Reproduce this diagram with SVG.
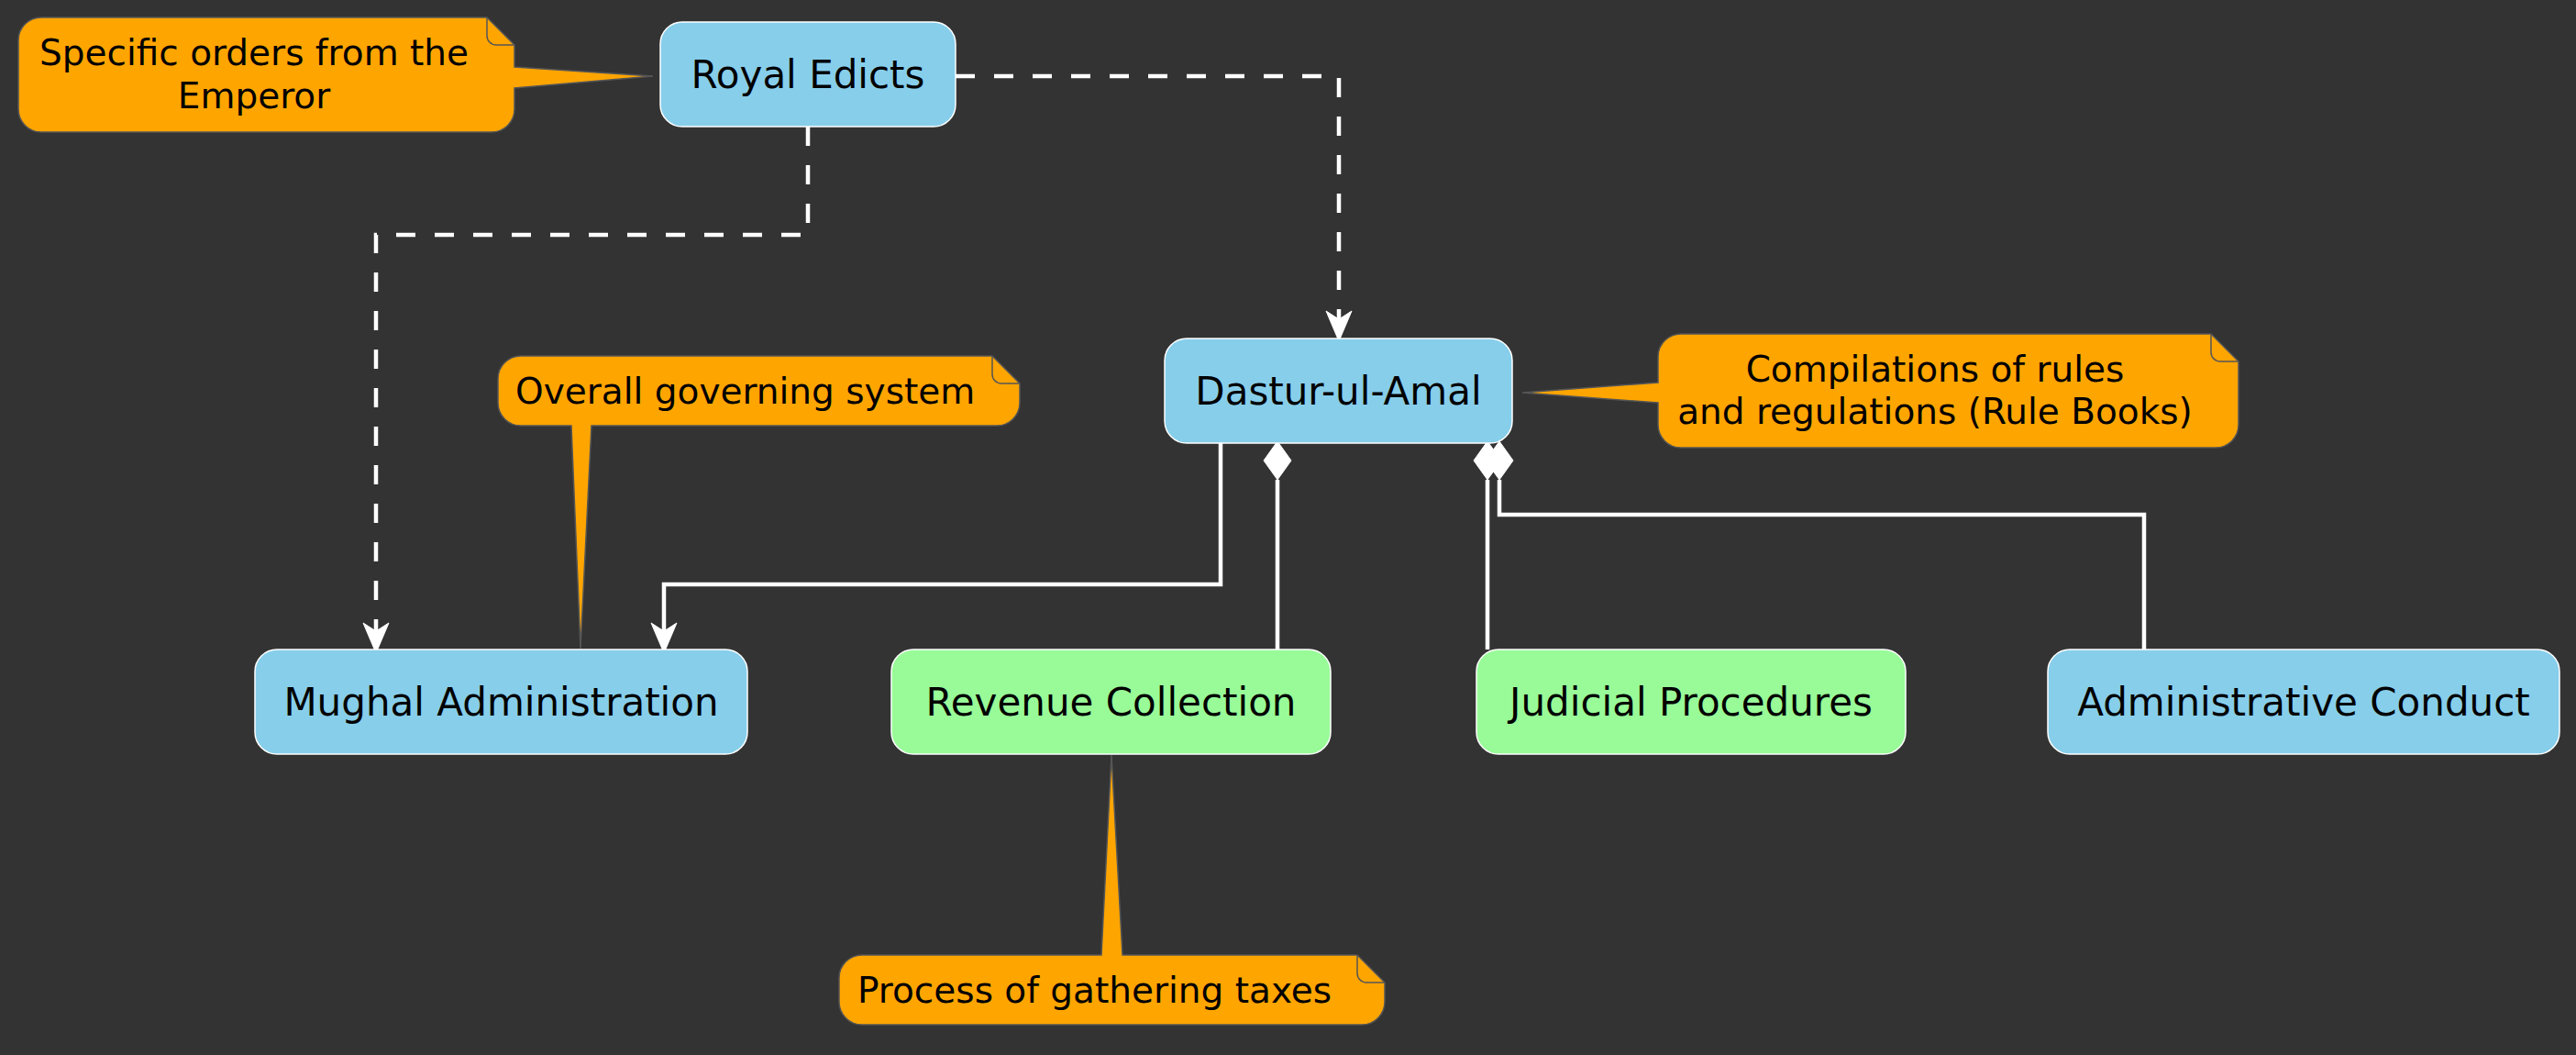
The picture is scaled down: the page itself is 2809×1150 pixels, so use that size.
<svg xmlns="http://www.w3.org/2000/svg" width="2809" height="1150" viewBox="0 0 2809 1150">
<style>
.node{stroke:#FFFFFF;stroke-width:1.5}
.blue{fill:#87CEEB}
.green{fill:#98FB98}
.ntext{font-family:"DejaVu Sans",Verdana,sans-serif;font-size:42px;fill:#000000;text-anchor:middle}
.note{fill:#FFA500;stroke:#555555;stroke-width:1.5}
.fold{fill:none;stroke:#555555;stroke-width:1.5}
.ttext{font-family:"DejaVu Sans",Verdana,sans-serif;font-size:39px;fill:#000000}
.edge{fill:none;stroke:#FFFFFF;stroke-width:4.5}
.dash{stroke-dasharray:21 21}
.head{fill:#FFFFFF;stroke:#FFFFFF;stroke-width:1}
</style>
<rect x="0" y="0" width="2809" height="1150" fill="#333333"/>

<g id="connectors">
  <path class="edge dash" d="M1042,83 L1460,83 L1460,350"/>
  <polygon class="head" points="1460,372 1446,339 1460,348 1474,339"/>
  <path class="edge dash" d="M881,138 L881,256 L410,256 L410,690"/>
  <polygon class="head" points="410,712 396,679 410,688 424,679"/>
  <path class="edge" d="M1331,483 L1331,637 L724,637 L724,690"/>
  <polygon class="head" points="724,712 710,679 724,688 738,679"/>
  <path class="edge" d="M1393,523 L1393,708"/>
  <polygon class="head" points="1393,481 1408,502 1393,523 1378,502"/>
  <path class="edge" d="M1622,523 L1622,708"/>
  <polygon class="head" points="1622,481 1637,502 1622,523 1607,502"/>
  <path class="edge" d="M1635,523 L1635,561 L2338,561 L2338,708"/>
  <polygon class="head" points="1635,481 1650,502 1635,523 1620,502"/>
</g>

<g id="royal-edicts">
  <rect class="node blue" x="720" y="24" width="322" height="114" rx="24" ry="24"/>
  <text class="ntext" x="881" y="96">Royal Edicts</text>
</g>

<g id="dastur-ul-amal">
  <rect class="node blue" x="1270" y="369" width="379" height="114" rx="24" ry="24"/>
  <text class="ntext" x="1459.5" y="441">Dastur-ul-Amal</text>
</g>

<g id="mughal-administration">
  <rect class="node blue" x="278" y="708" width="537" height="114" rx="24" ry="24"/>
  <text class="ntext" x="546.5" y="780">Mughal Administration</text>
</g>

<g id="revenue-collection">
  <rect class="node green" x="972" y="708" width="479" height="114" rx="24" ry="24"/>
  <text class="ntext" x="1211.5" y="780">Revenue Collection</text>
</g>

<g id="judicial-procedures">
  <rect class="node green" x="1610" y="708" width="468" height="114" rx="24" ry="24"/>
  <text class="ntext" x="1844" y="780">Judicial Procedures</text>
</g>

<g id="administrative-conduct">
  <rect class="node blue" x="2233" y="708" width="558" height="114" rx="24" ry="24"/>
  <text class="ntext" x="2512" y="780">Administrative Conduct</text>
</g>

<g id="note-specific-orders">
  <path class="note" d="M45,19 L531,19 L561,49 L561,73 L712,83 L561,96 L561,119 A25,25 0 0 1 536,144 L45,144 A25,25 0 0 1 20,119 L20,44 A25,25 0 0 1 45,19 Z"/>
  <path class="fold" d="M531,19 L531,39 A10,10 0 0 0 541,49 L561,49"/>
  <text class="ttext" x="277" y="71" text-anchor="middle">Specific orders from the</text>
  <text class="ttext" x="277" y="118" text-anchor="middle">Emperor</text>
</g>

<g id="note-overall-governing">
  <path class="note" d="M568,388 L1082,388 L1112,418 L1112,439 A25,25 0 0 1 1087,464 L645,464 L633,707 L623,464 L568,464 A25,25 0 0 1 543,439 L543,413 A25,25 0 0 1 568,388 Z"/>
  <path class="fold" d="M1082,388 L1082,408 A10,10 0 0 0 1092,418 L1112,418"/>
  <text class="ttext" x="562" y="440">Overall governing system</text>
</g>

<g id="note-compilations">
  <path class="note" d="M1833,364 L2411,364 L2441,394 L2441,463 A25,25 0 0 1 2416,488 L1833,488 A25,25 0 0 1 1808,463 L1808,439 L1660,428 L1808,417 L1808,389 A25,25 0 0 1 1833,364 Z"/>
  <path class="fold" d="M2411,364 L2411,384 A10,10 0 0 0 2421,394 L2441,394"/>
  <text class="ttext" x="2110" y="416" text-anchor="middle">Compilations of rules</text>
  <text class="ttext" x="2110" y="462" text-anchor="middle">and regulations (Rule Books)</text>
</g>

<g id="note-process-taxes">
  <path class="note" d="M940,1041 L1201,1041 L1212,823 L1224,1041 L1480,1041 L1510,1071 L1510,1092 A25,25 0 0 1 1485,1117 L940,1117 A25,25 0 0 1 915,1092 L915,1066 A25,25 0 0 1 940,1041 Z"/>
  <path class="fold" d="M1480,1041 L1480,1061 A10,10 0 0 0 1490,1071 L1510,1071"/>
  <text class="ttext" x="935" y="1093">Process of gathering taxes</text>
</g>
</svg>
